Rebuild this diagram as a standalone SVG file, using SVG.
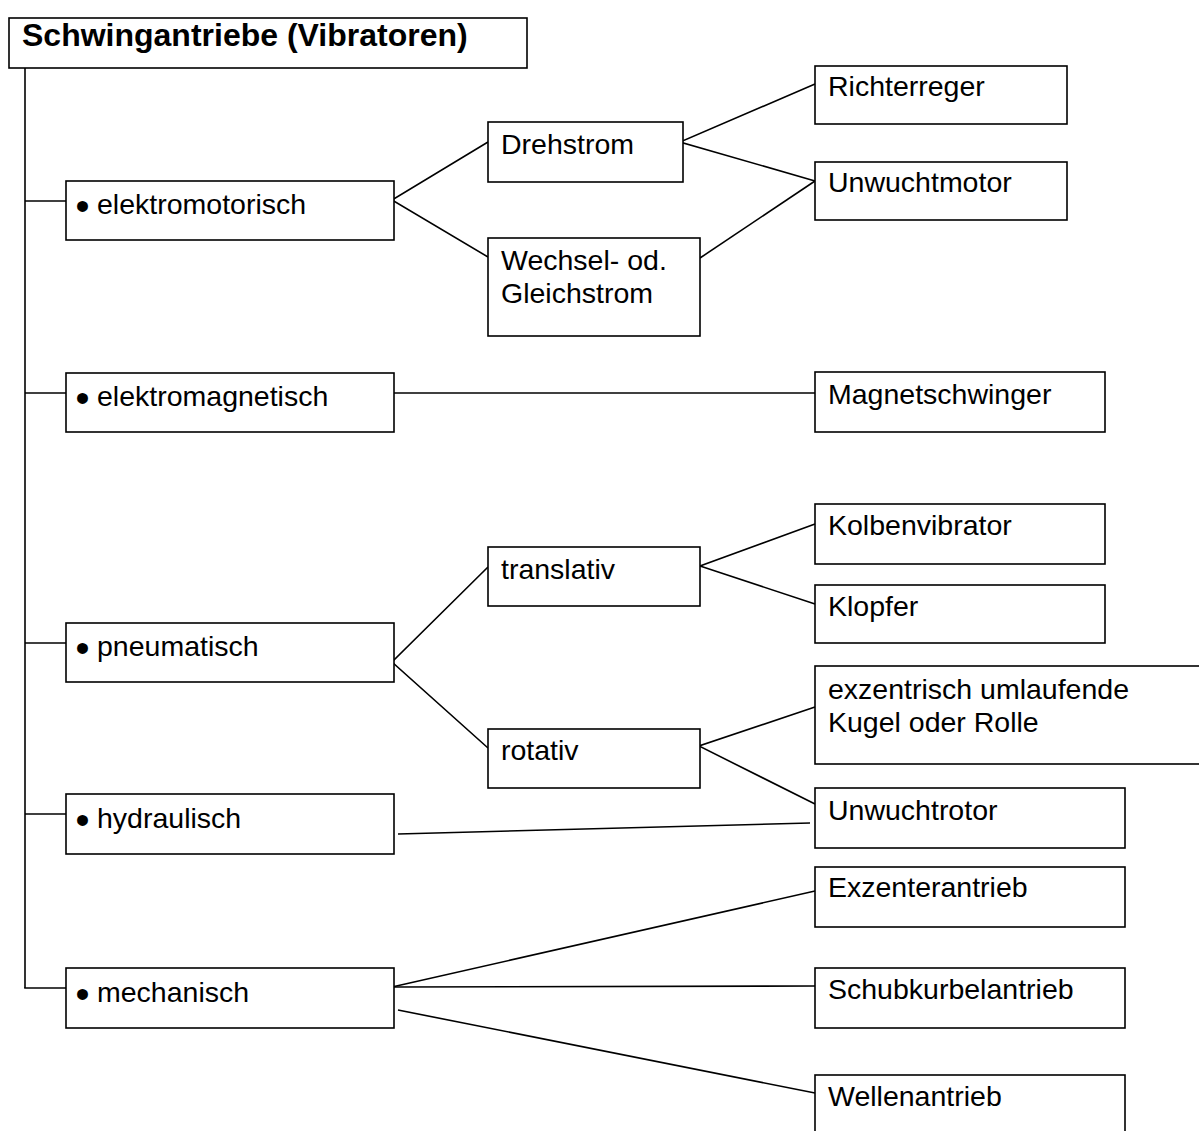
<svg xmlns="http://www.w3.org/2000/svg" width="1199" height="1131" viewBox="0 0 1199 1131">
<style>
rect.n{fill:#fff;stroke:#000;stroke-width:1.6}
text{font-family:"Liberation Sans",Arial,sans-serif;font-size:28.5px;fill:#000}
.t{font-weight:bold;font-size:32px}
.b{font-size:40px}
#connectors line,#connectors polyline{stroke:#000;stroke-width:1.6;fill:none}
</style>
<rect width="1199" height="1131" style="fill:#fff;stroke:none"/>
<g id="connectors">
<line x1="25" y1="68" x2="25" y2="988"/>
<line x1="25" y1="201" x2="66" y2="201"/>
<line x1="25" y1="393" x2="66" y2="393"/>
<line x1="25" y1="643" x2="66" y2="643"/>
<line x1="25" y1="814" x2="66" y2="814"/>
<line x1="24.2" y1="988" x2="66" y2="988"/>
<polyline points="488,142 392,200 488,257"/>
<polyline points="815,84 680,142 815,181"/>
<line x1="700" y1="258" x2="815" y2="181"/>
<line x1="394" y1="393" x2="815" y2="393"/>
<polyline points="488,567 392,662 488,748"/>
<polyline points="815,524 700,566 815,604"/>
<polyline points="815,707 699,746 815,804"/>
<line x1="398" y1="834" x2="810" y2="823"/>
<line x1="392" y1="987" x2="815" y2="891"/>
<line x1="394" y1="987" x2="815" y2="986"/>
<line x1="398" y1="1010" x2="815" y2="1093"/>
</g>
<g id="root"><rect class="n" x="9" y="18" width="518" height="50"/><text class="t" x="22" y="46">Schwingantriebe (Vibratoren)</text></g>
<g id="elektromotorisch"><rect class="n" x="66" y="181" width="328" height="59"/><text class="b" x="75.5" y="220">•</text><text x="97" y="214">elektromotorisch</text></g>
<g id="elektromagnetisch"><rect class="n" x="66" y="373" width="328" height="59"/><text class="b" x="75.5" y="412">•</text><text x="97" y="406">elektromagnetisch</text></g>
<g id="pneumatisch"><rect class="n" x="66" y="623" width="328" height="59"/><text class="b" x="75.5" y="662">•</text><text x="97" y="656">pneumatisch</text></g>
<g id="hydraulisch"><rect class="n" x="66" y="794" width="328" height="60"/><text class="b" x="75.5" y="834">•</text><text x="97" y="828">hydraulisch</text></g>
<g id="mechanisch"><rect class="n" x="66" y="968" width="328" height="60"/><text class="b" x="75.5" y="1008">•</text><text x="97" y="1002">mechanisch</text></g>
<g id="drehstrom"><rect class="n" x="488" y="122" width="195" height="60"/><text x="501" y="154">Drehstrom</text></g>
<g id="wechselstrom"><rect class="n" x="488" y="238" width="212" height="98"/><text x="501" y="270">Wechsel- od.</text><text x="501" y="303">Gleichstrom</text></g>
<g id="richterreger"><rect class="n" x="815" y="66" width="252" height="58"/><text x="828" y="96">Richterreger</text></g>
<g id="unwuchtmotor"><rect class="n" x="815" y="162" width="252" height="58"/><text x="828" y="192">Unwuchtmotor</text></g>
<g id="magnetschwinger"><rect class="n" x="815" y="372" width="290" height="60"/><text x="828" y="404">Magnetschwinger</text></g>
<g id="translativ"><rect class="n" x="488" y="547" width="212" height="59"/><text x="501" y="579">translativ</text></g>
<g id="rotativ"><rect class="n" x="488" y="729" width="212" height="59"/><text x="501" y="760">rotativ</text></g>
<g id="kolbenvibrator"><rect class="n" x="815" y="504" width="290" height="60"/><text x="828" y="535">Kolbenvibrator</text></g>
<g id="klopfer"><rect class="n" x="815" y="585" width="290" height="58"/><text x="828" y="616">Klopfer</text></g>
<g id="exzentrisch"><rect class="n" x="815" y="666" width="400" height="98"/><text x="828" y="699">exzentrisch umlaufende</text><text x="828" y="732">Kugel oder Rolle</text></g>
<g id="unwuchtrotor"><rect class="n" x="815" y="788" width="310" height="60"/><text x="828" y="820">Unwuchtrotor</text></g>
<g id="exzenterantrieb"><rect class="n" x="815" y="867" width="310" height="60"/><text x="828" y="897">Exzenterantrieb</text></g>
<g id="schubkurbelantrieb"><rect class="n" x="815" y="968" width="310" height="60"/><text x="828" y="999">Schubkurbelantrieb</text></g>
<g id="wellenantrieb"><rect class="n" x="815" y="1075" width="310" height="80"/><text x="828" y="1106">Wellenantrieb</text></g>
</svg>
